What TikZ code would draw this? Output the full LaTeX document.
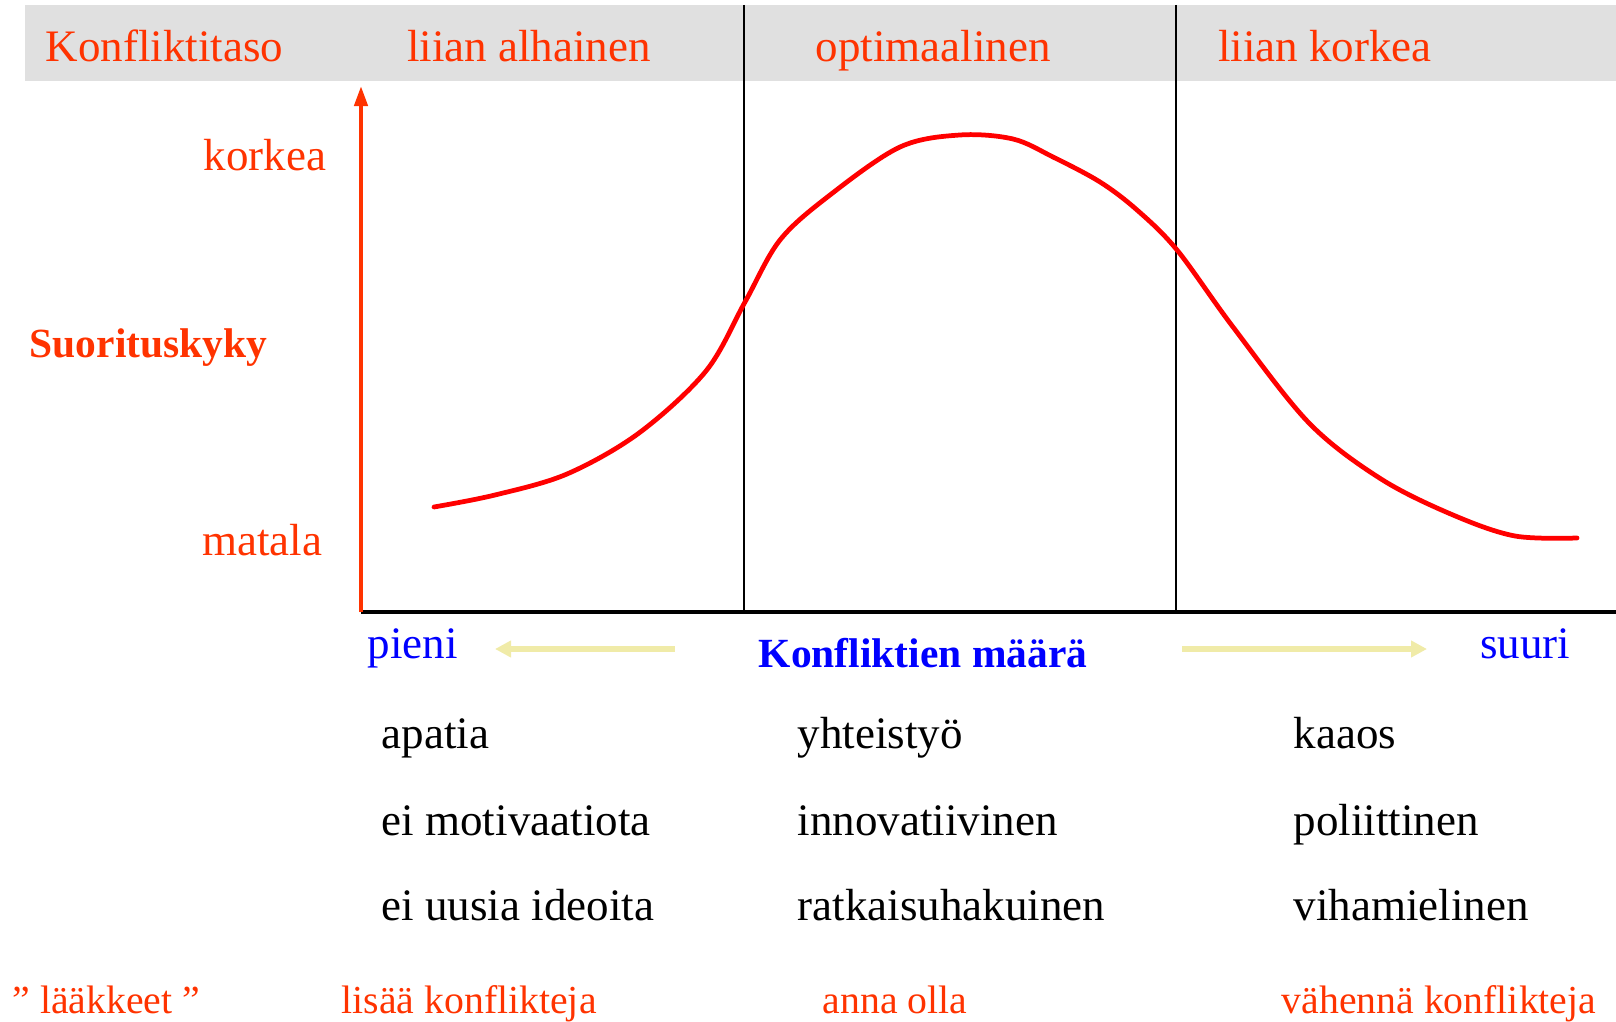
\documentclass[tikz,border=0pt]{standalone}
\usepackage{fontspec}
\setmainfont{Liberation Serif}
\usetikzlibrary{arrows.meta}
\definecolor{hdrgray}{HTML}{E0E0E0}
\definecolor{txtred}{HTML}{FF3300}
\definecolor{curvered}{HTML}{FF0000}
\definecolor{txtblue}{HTML}{0000FF}
\definecolor{pale}{HTML}{F0EBA8}
\tikzset{
  hdr/.style={font=\fontsize{12.8}{15}\selectfont,txtred,inner sep=0pt,anchor=base},
  ylbl/.style={font=\fontsize{12.8}{15}\selectfont,txtred,inner sep=0pt,anchor=base east},
  xlbl/.style={font=\fontsize{12.8}{15}\selectfont,txtblue,inner sep=0pt,anchor=base},
  item/.style={font=\fontsize{12.8}{15}\selectfont,inner sep=0pt,anchor=base west},
  cure/.style={font=\fontsize{11.3}{14}\selectfont,txtred,inner sep=0pt,anchor=base west},
  divider/.style={line width=0.6pt},
  yaxis/.style={line width=1.2pt,txtred,-{Triangle[length=2mm,width=1.3mm]}},
  xaxis/.style={line width=1.4pt},
  hint/.style={line width=1.7pt,pale,-{Triangle[length=1.6mm,width=1.6mm]}},
  perf/.style={line width=1.35pt,curvered,line join=round,line cap=round},
}
\begin{document}
\begin{tikzpicture}[x=0.01cm,y=-0.01cm]
  \useasboundingbox (0,0) rectangle (1616,1022);
  % ---------- header band ----------
  \fill[hdrgray] (25,5) rectangle (1616,81);
  \node[hdr,anchor=base west] (level) at (45,62) {Konfliktitaso};
  \node[hdr] (low) at (529,62) {liian alhainen};
  \node[hdr] (opt) at (933,62) {optimaalinen};
  \node[hdr] (high) at (1325,62) {liian korkea};
  % ---------- zone dividers ----------
  \coordinate (d1t) at (744,5);   \coordinate (d1b) at (744,612);
  \coordinate (d2t) at (1176,5);  \coordinate (d2b) at (1176,612);
  \draw[divider] (d1t) -- (d1b);
  \draw[divider] (d2t) -- (d2b);
  % ---------- axes ----------
  \coordinate (O) at (361,612);
  \coordinate (ytop) at (361,86);
  \coordinate (xend) at (1616,612);
  \draw[xaxis] (O) -- (xend);
  \draw[yaxis] (O) -- (ytop);
  \node[ylbl] (hi) at (327,171) {korkea};
  \node[ylbl] (lo) at (323,555) {matala};
  \node[font=\fontsize{11.8}{14}\selectfont\bfseries,txtred,inner sep=0pt,anchor=base west] (perfl) at (29,358) {Suorituskyky};
  % ---------- performance curve ----------
  \draw[perf] plot[smooth,tension=0.55] coordinates {
    (434,507) (495,495) (567,474) (639,433) (706,371)
    (745,302) (780,240) (830,195) (900,147) (960,135)
    (1013,139) (1053,157) (1100,182) (1137,210) (1177,250)
    (1233,327) (1309,423) (1381,479)
    (1453,515) (1515,536) (1577,538)};
  % ---------- x axis labels ----------
  \node[xlbl,anchor=base west] (small) at (367,658) {pieni};
  \node[xlbl,anchor=base east] (large) at (1571,658) {suuri};
  \node[xlbl,font=\fontsize{11.8}{14}\selectfont\bfseries] (amount) at (923,667) {Konfliktien määrä};
  \coordinate (la) at (675,649); \coordinate (lb) at (495,649);
  \coordinate (ra) at (1182,649); \coordinate (rb) at (1427,649);
  \draw[hint] (la) -- (lb);
  \draw[hint] (ra) -- (rb);
  % ---------- symptoms ----------
  \node[item] (s11) at (381,748) {apatia};
  \node[item] (s12) at (381,835) {ei motivaatiota};
  \node[item] (s13) at (381,920) {ei uusia ideoita};
  \node[item] (s21) at (797,748) {yhteistyö};
  \node[item] (s22) at (797,835) {innovatiivinen};
  \node[item] (s23) at (797,920) {ratkaisuhakuinen};
  \node[item] (s31) at (1293,748) {kaaos};
  \node[item] (s32) at (1293,835) {poliittinen};
  \node[item] (s33) at (1293,920) {vihamielinen};
  % ---------- remedies ----------
  \node[cure] (rem) at (12,1013) {” lääkkeet ”};
  \node[cure] (r1) at (341,1013) {lisää konflikteja};
  \node[cure] (r2) at (822,1013) {anna olla};
  \node[cure] (r3) at (1281,1013) {vähennä konflikteja};
\end{tikzpicture}
\end{document}
